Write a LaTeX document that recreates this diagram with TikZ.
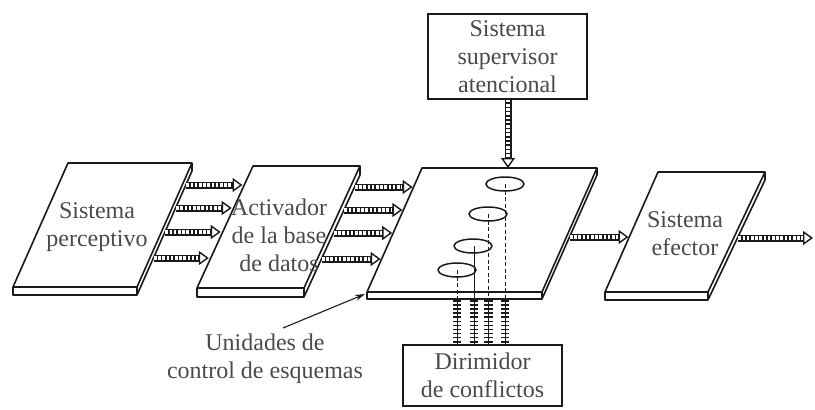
\documentclass[tikz,border=0pt]{standalone}
\usepackage{fontspec}
\setmainfont{Liberation Serif}
\usetikzlibrary{arrows.meta}
\definecolor{ink}{HTML}{1A1A1A}
\definecolor{txt}{HTML}{4A4A4A}
\newcommand\drawslab[7]{% tlx, trx, blx, brx, ytop, ybot, thickness
  \draw[plate] (#1,#5) -- (#2,#5) -- (#4,#6) -- (#3,#6) -- cycle;
  \draw[plate] (#3,#6) -- (#3,#6+#7) -- (#4,#6+#7) -- (#2,#5+#7) -- (#2,#5);
  \draw[plate] (#4,#6) -- (#4,#6+#7);
}
\tikzset{
  plate/.style={draw=ink, line width=1.6pt, line join=round},
  lbl/.style={text=txt, align=center, font=\fontsize{24}{28}\selectfont, inner sep=0pt},
  boxnode/.style={lbl, draw=ink, line width=1.6pt},
  harrow/.style={draw=ink, line width=0.8pt,
    -{Triangle[open,length=10pt,width=14pt,line width=1.4pt]},
    preaction={draw=ink, arrows=-, line width=7pt, shorten >=9pt},
    postaction={draw=white, arrows=-, line width=3.6pt, dash pattern=on 2.6pt off 1.6pt, shorten >=10.5pt}},
  tickline/.style={draw=ink, line width=1pt,
    postaction={draw=ink, line width=8.5pt, dash pattern=on 1.5pt off 2.6pt}},
  guide/.style={draw=ink, line width=1pt},
  guidedash/.style={guide, dash pattern=on 4pt off 2.5pt},
  pointer/.style={draw=ink, line width=1.1pt, -{Stealth[length=10pt,width=6pt]}},
}
\begin{document}
\begin{tikzpicture}[x=1pt,y=-1pt]
\useasboundingbox (0,0) rectangle (815,410);

% slabs
\drawslab{68}{192}{13}{137}{163}{287}{8}
\drawslab{253}{360}{197}{304}{166}{288}{9}
\drawslab{422}{597}{367}{542}{168}{292}{7}
\drawslab{658}{765}{605}{708}{172}{292}{8}

% labels on slabs
\node[lbl] (perc) at (97,227) {Sistema\\perceptivo};
\node[lbl] (act) at (279,235) {Activador\\de la base\\de datos};
\node[lbl] (efec) at (685,234) {Sistema\\efector};

% boxes
\node[boxnode, minimum width=159pt, minimum height=85pt] (sup) at (507.5,56.5) {Sistema\\supervisor\\atencional};
\node[boxnode, minimum width=159pt, minimum height=61pt] (dir) at (482.5,375.5) {Dirimidor\\de conflictos};
\node[lbl] (uni) at (265,358.5) {Unidades de\\control de esquemas};

% arrow end points
\coordinate (a1s) at (186.3,185); \coordinate (a1e) at (242.5,185);
\coordinate (a2s) at (176.1,208); \coordinate (a2e) at (231.7,208);
\coordinate (a3s) at (165.4,232); \coordinate (a3e) at (220.7,232);
\coordinate (a4s) at (153.9,258); \coordinate (a4e) at (208.8,258);
\coordinate (b1s) at (355.0,187); \coordinate (b1e) at (412.6,187);
\coordinate (b2s) at (344.4,210); \coordinate (b2e) at (402.4,210);
\coordinate (b3s) at (333.9,233); \coordinate (b3e) at (392.2,233);
\coordinate (b4s) at (321.9,259); \coordinate (b4e) at (380.6,259);
\coordinate (cs) at (570,237); \coordinate (ce) at (628.5,237);
\coordinate (ds) at (738.4,238); \coordinate (de) at (813,238);
\coordinate (supin) at (508,168);
\coordinate (corner) at (365,294);
\coordinate (unitail) at (283,328);

% hatched arrows
\foreach \n in {a1,a2,a3,a4,b1,b2,b3,b4,c,d}
  \draw[harrow] (\n s) -- (\n e);
\draw[harrow] (sup.south -| supin) -- (supin);

% control units (ellipses)
\coordinate (e1) at (505,184);
\coordinate (e2) at (488,214);
\coordinate (e3) at (473,246);
\coordinate (e4) at (457,270);
\foreach \e in {e1,e2,e3,e4}
  \draw[ink, line width=1.5pt] (\e) ellipse [x radius=19pt, y radius=7pt];

\draw[guidedash] (e1) -- (505,299);
\draw[guidedash] (488.5,214) -- (488.5,299);
\draw[guide] (474,246) -- (474,299);
\draw[guidedash] (e4) -- (457,299);

% hatched lines to the conflict resolver
\foreach \xx in {457,474,488.5,505}
  \draw[tickline] (\xx,300) -- (\xx,345);

% pointer to control units
\draw[pointer] (unitail) -- (corner);
\end{tikzpicture}
\end{document}
